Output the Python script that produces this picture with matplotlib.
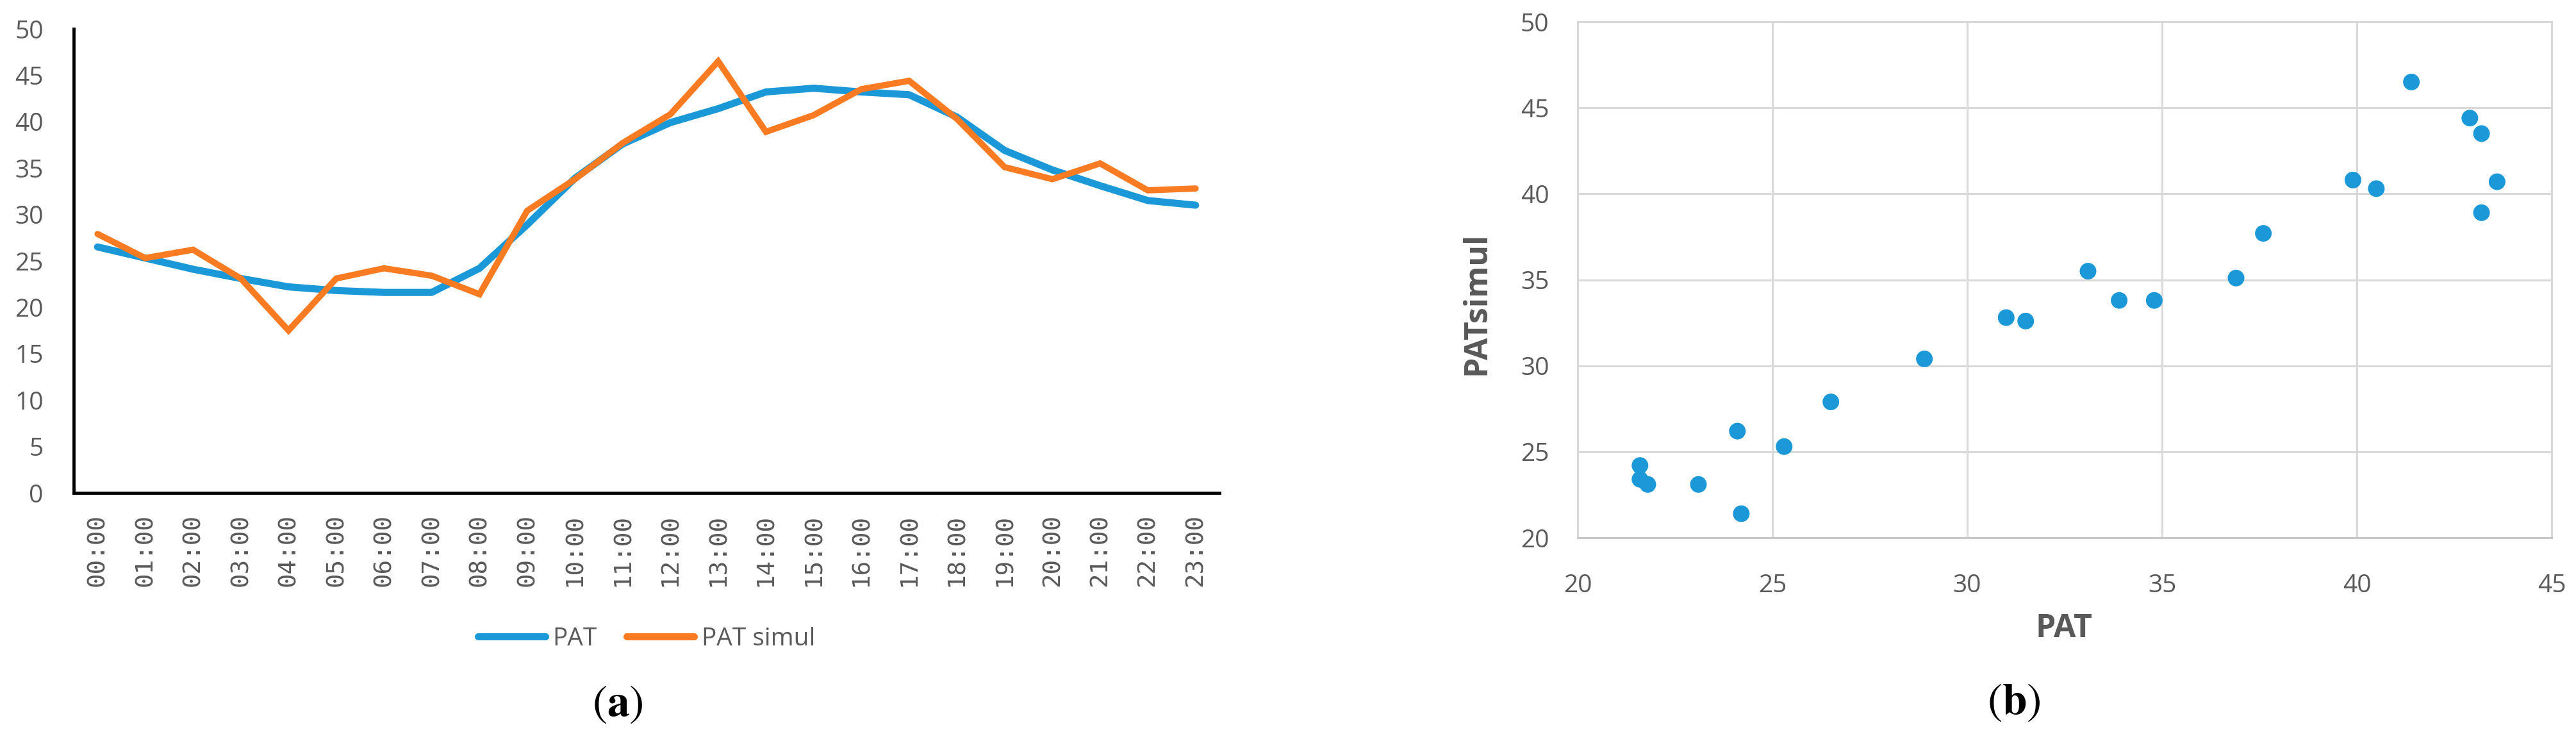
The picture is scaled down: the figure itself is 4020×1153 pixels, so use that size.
import matplotlib
matplotlib.use("Agg")
import matplotlib.pyplot as plt
import numpy as np

# ---------------- data ----------------
hours = ["00:00", "01:00", "02:00", "03:00", "04:00", "05:00", "06:00", "07:00",
         "08:00", "09:00", "10:00", "11:00", "12:00", "13:00", "14:00", "15:00",
         "16:00", "17:00", "18:00", "19:00", "20:00", "21:00", "22:00", "23:00"]
pat = [26.5, 25.3, 24.1, 23.1, 22.2, 21.8, 21.6, 21.6, 24.2, 28.9, 33.9, 37.6,
       39.9, 41.4, 43.2, 43.6, 43.2, 42.9, 40.5, 36.9, 34.8, 33.1, 31.5, 31.0]
pat_simul = [27.9, 25.3, 26.2, 23.1, 17.5, 23.1, 24.2, 23.4, 21.4, 30.4, 33.8, 37.7,
             40.8, 46.5, 38.9, 40.7, 43.5, 44.4, 40.3, 35.1, 33.8, 35.5, 32.6, 32.8]
left_yticks = [0, 5, 10, 15, 20, 25, 30, 35, 40, 45, 50]
right_xticks = [20, 25, 30, 35, 40, 45]
right_yticks = [20, 25, 30, 35, 40, 45, 50]

# ---------------- style ----------------
W, H = 4020, 1153
DPI = 100
plt.rcParams['font.family'] = ['Open Sans', 'DejaVu Sans']
plt.rcParams['mathtext.fontset'] = 'stix'
GRAY = "#595959"
BLUE = "#1a98d8"
ORANGE = "#fa7b22"
GRID = "#d9d9d9"

fig = plt.figure(figsize=(W / DPI, H / DPI), dpi=DPI)


def px_axes(x0, y0, x1, y1):
    return fig.add_axes([x0 / W, 1 - y1 / H, (x1 - x0) / W, (y1 - y0) / H])


# ---------------- (a) line chart ----------------
ax1 = px_axes(115, 45, 1903, 769)
x = np.arange(len(hours))
ax1.plot(x, pat, color=BLUE, lw=8, solid_capstyle='round', solid_joinstyle='round', label="PAT")
ax1.plot(x, pat_simul, color=ORANGE, lw=7, solid_capstyle='round', solid_joinstyle='miter', label="PAT simul")
ax1.set_xlim(-0.5, len(hours) - 0.5)
ax1.set_ylim(0, 50)
ax1.set_yticks(left_yticks)
ax1.set_xticks(x)
ax1.set_xticklabels(hours, rotation=90, family='DejaVu Sans Mono', fontsize=27, color=GRAY)
ax1.tick_params(axis='x', length=0, pad=24)
ax1.tick_params(axis='y', length=0, pad=34, labelsize=28, labelcolor=GRAY)
for s in ['top', 'right']:
    ax1.spines[s].set_visible(False)
for s in ['left', 'bottom']:
    ax1.spines[s].set_color('black')
    ax1.spines[s].set_linewidth(3.5)
leg = ax1.legend(loc='center', bbox_to_anchor=(0.5, (769 - 997) / (769 - 45)), ncol=2,
                 frameon=False, fontsize=28, handlelength=2.7, handletextpad=0.3,
                 columnspacing=1.2, labelcolor=GRAY)
for lh in leg.get_lines():
    lh.set_linewidth(8)
    lh.set_solid_capstyle('round')

fig.text(964 / W, 1 - 1100 / H, r"($\mathbf{a}$)", ha='center', va='center',
         fontsize=50, family='STIXGeneral', color='black')

# ---------------- (b) scatter ----------------
ax2 = px_axes(2462, 34, 3982, 839)
ax2.scatter(pat, pat_simul, s=350, color=BLUE, edgecolors='none', zorder=3)
ax2.set_xlim(20, 45)
ax2.set_ylim(20, 50)
ax2.set_xticks(right_xticks)
ax2.set_yticks(right_yticks)
ax2.grid(True, color=GRID, lw=2.2, zorder=0)
ax2.set_axisbelow(True)
for s in ax2.spines.values():
    s.set_color(GRID)
    s.set_linewidth(2.2)
ax2.spines['bottom'].set_color("#c8c8c8")
ax2.tick_params(axis='both', length=0, labelsize=28, labelcolor=GRAY)
ax2.tick_params(axis='x', pad=40)
ax2.tick_params(axis='y', pad=32)

fig.text(3221 / W, 1 - 981 / H, "PAT", ha='center', va='center', fontsize=36,
         fontweight='bold', color=GRAY)
fig.text(2305 / W, 1 - 473 / H, "PATsimul", ha='center', va='center', fontsize=36,
         fontweight='bold', color=GRAY, rotation=90)

fig.text(3143 / W, 1 - 1097 / H, r"($\mathbf{b}$)", ha='center', va='center',
         fontsize=50, family='STIXGeneral', color='black')

fig.savefig("out.png", dpi=DPI, facecolor='white')
